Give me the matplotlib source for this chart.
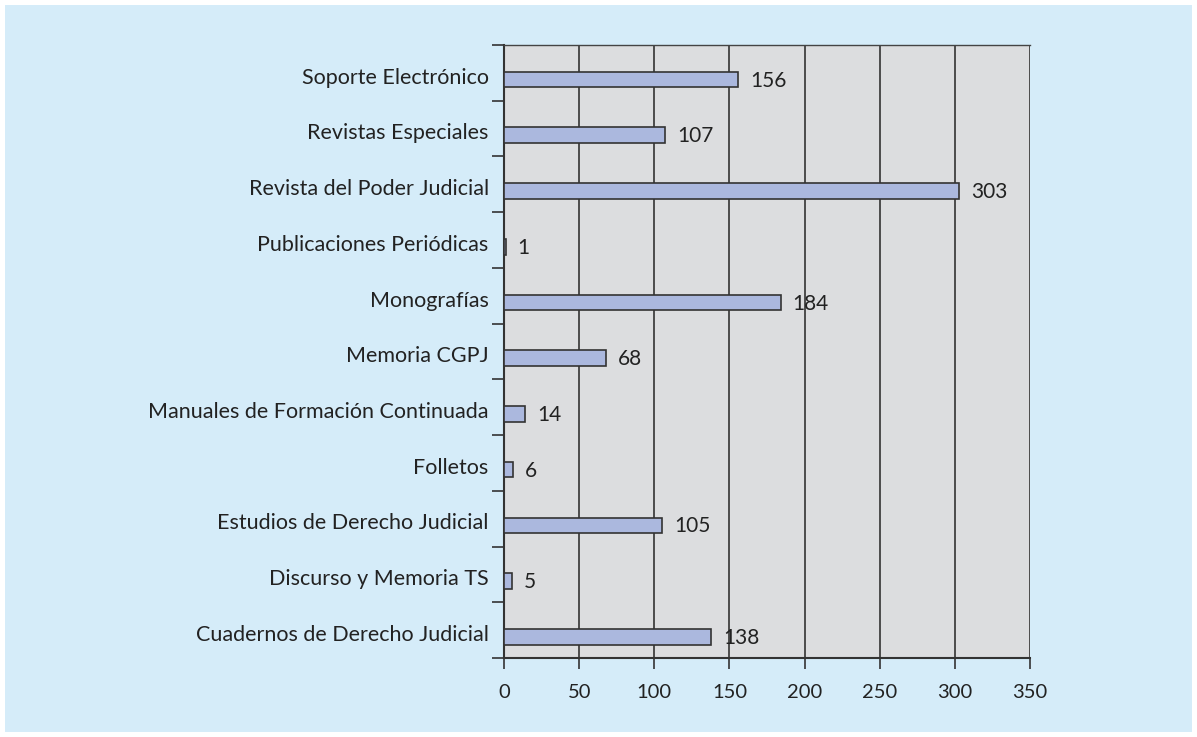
import matplotlib
matplotlib.use("Agg")
import matplotlib.pyplot as plt
from matplotlib.patches import Rectangle

categorias = ["Soporte Electrónico", "Revistas Especiales", "Revista del Poder Judicial",
              "Publicaciones Periódicas", "Monografías", "Memoria CGPJ",
              "Manuales de Formación Continuada", "Folletos",
              "Estudios de Derecho Judicial", "Discurso y Memoria TS",
              "Cuadernos de Derecho Judicial"]
valores = [156, 107, 303, 1, 184, 68, 14, 6, 105, 5, 138]
xticks = [0, 50, 100, 150, 200, 250, 300, 350]

plt.rcParams['font.family'] = ['Lato', 'DejaVu Sans']
fig = plt.figure(figsize=(11.97, 7.37), dpi=100)
fig.patch.set_facecolor("white")
fig.patches.append(Rectangle((5 / 1197, 5 / 737), 1187 / 1197, 727 / 737,
                             transform=fig.transFigure, facecolor="#d5ecf9",
                             edgecolor="none", zorder=-10))

ax = fig.add_axes([504 / 1197, 1 - 658 / 737, 526 / 1197, 613 / 737])
ax.set_facecolor("#dcdddf")

n = len(categorias)
pos = list(range(n))[::-1]
# bars sit a little below the centre of each category band
bar_pos = [p - 0.12 for p in pos]
ax.barh(bar_pos, valores, height=0.28, color="#abb8de", edgecolor="#333333",
        linewidth=1.2, zorder=3)
for p, v in zip(bar_pos, valores):
    ax.text(v + 8, p - 0.02, str(v), va="center", ha="left", fontsize=15,
            color="#222222", zorder=4)

ax.set_xlim(0, 350)
ax.set_ylim(-0.5, n - 0.5)
ax.set_xticks(xticks)
ax.set_xticklabels([str(t) for t in xticks], fontsize=14.5, color="#222222")
ax.tick_params(axis="x", length=8, width=1.2, color="#333333", pad=11)
ax.set_yticks([p - 0.05 for p in pos])
ax.set_yticklabels(categorias, fontsize=15.5, color="#222222")
ax.tick_params(axis="y", length=0, pad=11)
ax.set_yticks([i - 0.5 for i in range(n + 1)], minor=True)
ax.tick_params(axis="y", which="minor", length=9, width=1.2, color="#333333")

ax.xaxis.grid(True, color="#333333", linewidth=1.2, zorder=1)
ax.set_axisbelow(True)
for s in ["left", "bottom"]:
    ax.spines[s].set_color("#333333")
    ax.spines[s].set_linewidth(1.5)
ax.spines["right"].set_visible(False)
ax.spines["top"].set_color("#444444")
ax.spines["top"].set_linewidth(1.0)

fig.savefig("out.png", dpi=100)
